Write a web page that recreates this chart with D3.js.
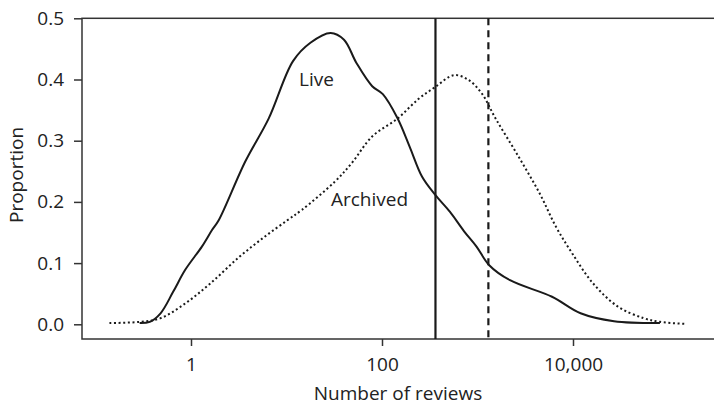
<!DOCTYPE html>
<html>
<head>
<meta charset="utf-8">
<script src="https://cdn.jsdelivr.net/npm/d3@7"></script>
<style>
  body { margin: 0; background: #fff; }
  svg { display: block; font-family: 'Open Sans', sans-serif; }
</style>
</head>
<body>
<svg id="graph" width="714" height="407"></svg>
<script>
// density of review counts, live vs archived (log x)

// number of reviews for each point on the live curve, and its proportion
const liveReviews = [0.29, 0.37, 0.48, 0.65, 0.87, 1.3, 1.66, 1.95, 3.7, 6.5, 11.7, 17.8, 29, 40, 54, 79, 102, 145, 195, 263, 363, 513, 724, 977, 1318, 2190, 6030, 12000, 26900, 81300];
const liveProp = [0.002, 0.004, 0.018, 0.053, 0.089, 0.127, 0.154, 0.17, 0.266, 0.336, 0.43, 0.46, 0.476, 0.465, 0.427, 0.389, 0.376, 0.337, 0.29, 0.241, 0.211, 0.184, 0.152, 0.127, 0.097, 0.072, 0.045, 0.018, 0.005, 0.002];

const archivedReviews = [0.14, 0.29, 0.48, 0.87, 1.6, 3.2, 5.9, 10.2, 14.5, 32, 48, 79, 145, 240, 363, 562, 794, 1100, 1550, 2690, 4470, 6600, 9800, 16200, 29500, 55000, 81300, 155000];
const archivedProp = [0.002, 0.004, 0.01, 0.034, 0.067, 0.11, 0.143, 0.17, 0.187, 0.233, 0.263, 0.307, 0.336, 0.368, 0.388, 0.407, 0.40, 0.378, 0.336, 0.274, 0.214, 0.16, 0.116, 0.067, 0.029, 0.01, 0.004, 0.0005];

// medians (vertical lines)
const liveMedian = 363;
const archivedMedian = 1300;

const xTicks = [1, 100, 10000];
const yTicks = [0, 0.1, 0.2, 0.3, 0.4, 0.5];

(function() {

const svg = d3.select('#graph');
const mLeft = 82, mRight = 716, mTop = 18.3, mBottom = 339;

const x = d3.scaleLog()
  .domain([1, 10000])
  .range([191, 573]);

const y = d3.scaleLinear()
  .domain([0, 0.5])
  .range([324.3, mTop]);

// box round the plot
svg.append('rect')
  .attr('x', mLeft)
  .attr('y', mTop)
  .attr('width', mRight - mLeft)
  .attr('height', mBottom - mTop)
  .attr('fill', 'none')
  .attr('stroke', '#333')
  .attr('stroke-width', 1.5);

const yAxis = svg.append('g')
  .attr('transform', `translate(${mLeft},0)`)
  .call(d3.axisLeft(y).tickValues(yTicks).tickFormat(d3.format('.1f')).tickSize(8).tickPadding(10));

const xAxis = svg.append('g')
  .attr('transform', `translate(0,${mBottom})`)
  .call(d3.axisBottom(x).tickValues(xTicks).tickFormat(d3.format(',')).tickSize(7).tickPadding(12));

[yAxis, xAxis].forEach(g => {
  g.select('.domain').remove();
  g.selectAll('line').attr('stroke', '#333').attr('stroke-width', 1.5);
  g.selectAll('text')
    .attr('fill', '#222')
    .style('font-size', '19px')
    .style('font-family', "'Open Sans', sans-serif");
});

svg.append('text')
  .attr('x', (mLeft + 714) / 2)
  .attr('y', 400)
  .attr('text-anchor', 'middle')
  .attr('fill', '#222')
  .style('font-size', '19px')
  .text('Number of reviews');

svg.append('text')
  .attr('transform', 'translate(23,175) rotate(-90)')
  .attr('text-anchor', 'middle')
  .attr('fill', '#222')
  .style('font-size', '19px')
  .text('Proportion');

const line = d3.line()
  .x(d => x(d[0]))
  .y(d => y(d[1]))
  .curve(d3.curveCatmullRom.alpha(0.5));

const live = d3.zip(liveReviews, liveProp);
const archived = d3.zip(archivedReviews, archivedProp);

svg.append('path')
  .datum(archived)
  .attr('d', line)
  .attr('fill', 'none')
  .attr('stroke', '#1a1a1a')
  .attr('stroke-width', 2)
  .attr('stroke-dasharray', '2,2.6');

svg.append('path')
  .datum(live)
  .attr('d', line)
  .attr('fill', 'none')
  .attr('stroke', '#1a1a1a')
  .attr('stroke-width', 2);

// median lines
svg.append('line')
  .attr('x1', x(liveMedian)).attr('x2', x(liveMedian))
  .attr('y1', mTop).attr('y2', mBottom)
  .attr('stroke', '#1a1a1a')
  .attr('stroke-width', 2.2);

svg.append('line')
  .attr('x1', x(archivedMedian)).attr('x2', x(archivedMedian))
  .attr('y1', mTop).attr('y2', mBottom)
  .attr('stroke', '#1a1a1a')
  .attr('stroke-width', 2.2)
  .attr('stroke-dasharray', '7,5');

svg.append('text')
  .attr('x', 316.5)
  .attr('y', 86)
  .attr('text-anchor', 'middle')
  .attr('fill', '#222')
  .style('font-size', '19px')
  .text('Live');

svg.append('text')
  .attr('x', 369.5)
  .attr('y', 206)
  .attr('text-anchor', 'middle')
  .attr('fill', '#222')
  .style('font-size', '19px')
  .text('Archived');

})();
</script>
</body>
</html>
